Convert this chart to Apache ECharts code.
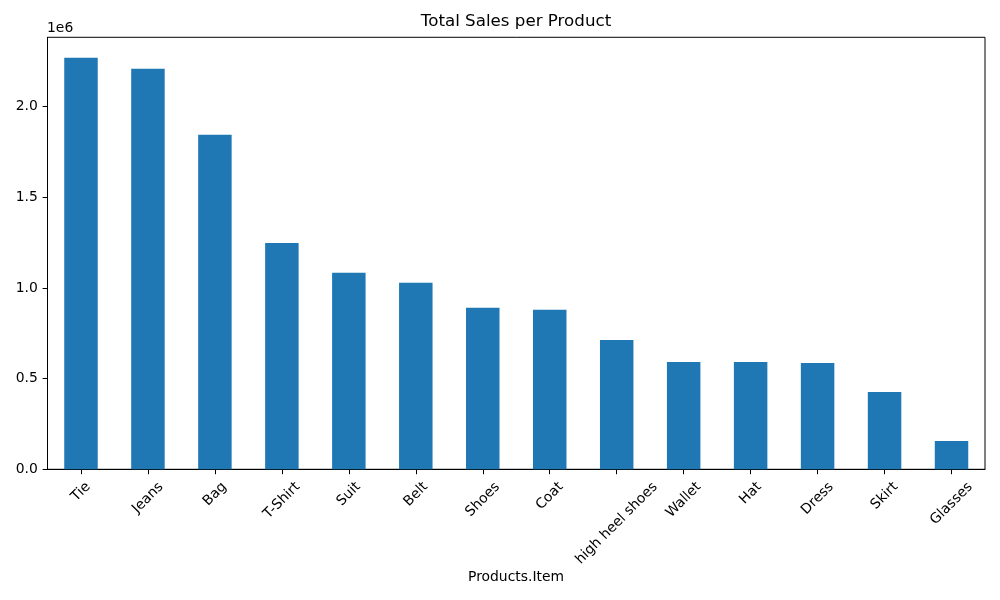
<!DOCTYPE html>
<html>
<head>
<meta charset="utf-8">
<script src="https://cdn.jsdelivr.net/npm/echarts@6/dist/echarts.min.js"></script>
<style>html,body{margin:0;padding:0;background:#fff}#c{width:1000px;height:600px}</style>
</head>
<body>
<div id="c"></div>
<script>
var categories = ['Tie','Jeans','Bag','T-Shirt','Suit','Belt','Shoes','Coat','high heel shoes','Wallet','Hat','Dress','Skirt','Glasses'];
var sales = [2268000, 2208000, 1844000, 1248000, 1083000, 1028000, 890000, 879000, 713000, 592000, 591000, 586000, 426000, 156000];
var yTickValues = [0, 500000, 1000000, 1500000, 2000000];
var yTickLabels = ['0.0', '0.5', '1.0', '1.5', '2.0'];
var xAxisTitle = 'Products.Item';

var FONT = 'DejaVu Sans';
var FS = 13.9;
var cv = document.createElement('canvas').getContext('2d');
cv.font = FS + 'px "' + FONT + '"';
var TH = FS * 1.164;
var catData = categories.map(function (c) {
  var w = cv.measureText(c).width;
  var p = (w + TH) / 2;
  return {
    value: c,
    textStyle: {
      align: 'center', verticalAlign: 'top',
      lineHeight: p,
      padding: [0, p, 0, 0],
      fontFamily: FONT, fontSize: FS, color: '#000'
    }
  };
});

var yMax = Math.max.apply(null, sales) * 1.05;

var chart = echarts.init(document.getElementById('c'), null, { renderer: 'canvas' });
chart.setOption({
  animation: false,
  backgroundColor: '#fff',
  textStyle: { fontFamily: FONT, color: '#000' },
  title: {
    text: 'Total Sales per Product',
    left: 511, top: 8, textAlign: 'center',
    textStyle: { fontFamily: FONT, fontSize: 16.7, fontWeight: 'normal', color: '#000' }
  },
  graphic: [{
    type: 'text', left: 47, top: 21,
    style: { text: '1e6', font: FS + 'px "' + FONT + '"', fill: '#000' }
  }, {
    type: 'text', x: 516, y: 577,
    style: { text: xAxisTitle, font: FS + 'px "' + FONT + '"', fill: '#000', align: 'center', verticalAlign: 'middle' }
  }],
  grid: {
    left: 47.5, right: 15, top: 37.3, bottom: 130.7,
    outerBoundsMode: 'none', containLabel: false,
    show: true, borderColor: '#000', borderWidth: 1, backgroundColor: 'transparent'
  },
  xAxis: {
    type: 'category',
    data: catData,
    axisLine: { show: true, lineStyle: { color: '#000', width: 1 } },
    axisTick: { show: true, alignWithLabel: true, length: 4.9, lineStyle: { color: '#000', width: 1 } },
    axisLabel: {
      interval: 0, rotate: 45, margin: 9.7,
      fontFamily: FONT, fontSize: FS, color: '#000', hideOverlap: false
    },
    splitLine: { show: false }
  },
  yAxis: {
    type: 'value',
    min: 0, max: yMax, interval: 500000,
    axisLine: { show: true, lineStyle: { color: '#000', width: 1 } },
    axisTick: { show: true, length: 4.9, customValues: yTickValues, lineStyle: { color: '#000', width: 1 } },
    axisLabel: {
      customValues: yTickValues,
      margin: 9.7,
      fontFamily: FONT, fontSize: FS, color: '#000',
      formatter: function (v) {
        var i = yTickValues.indexOf(v);
        return i >= 0 ? yTickLabels[i] : '';
      }
    },
    splitLine: { show: false }
  },
  series: [{
    type: 'bar',
    data: sales,
    barWidth: '50%',
    itemStyle: { color: '#1f77b4', borderWidth: 0 }
  }]
});
</script>
</body>
</html>
